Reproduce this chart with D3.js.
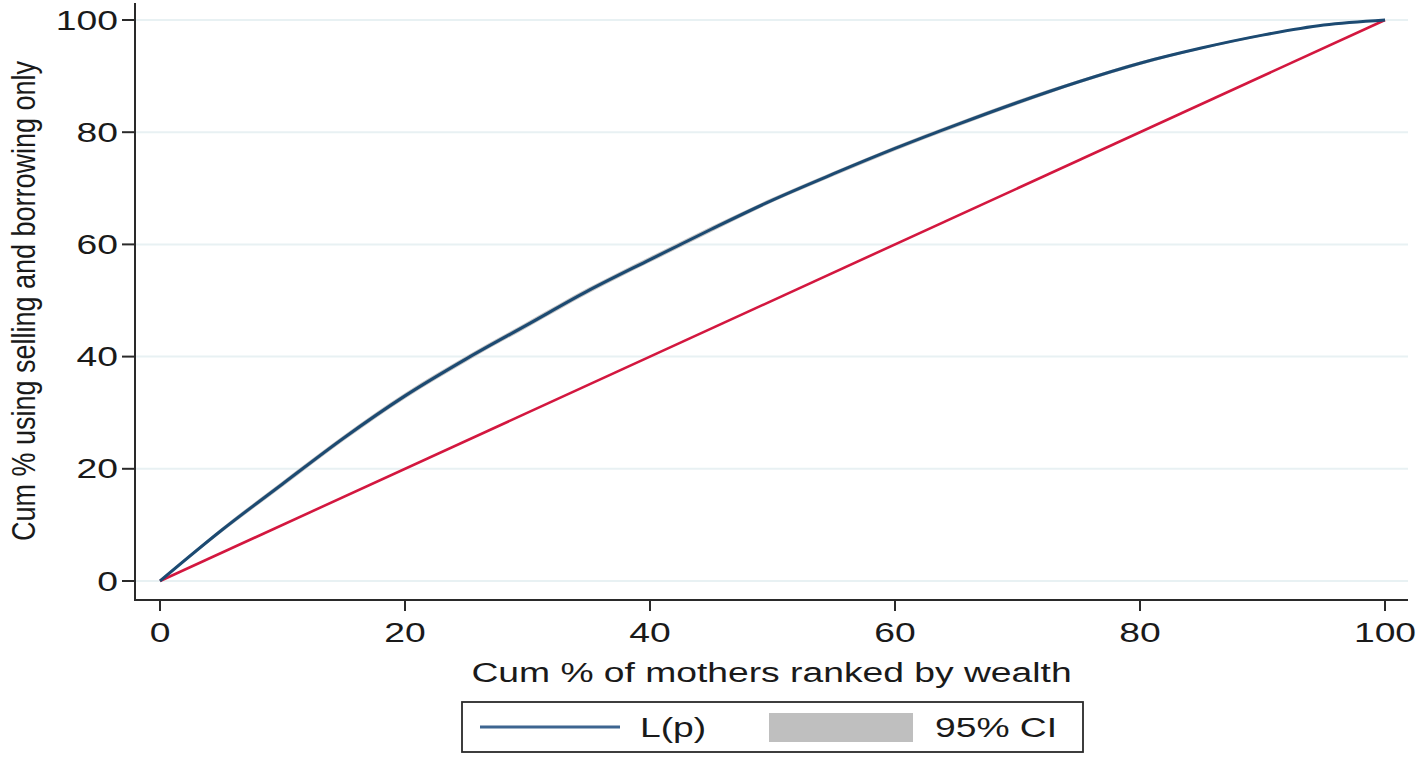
<!DOCTYPE html>
<html><head><meta charset="utf-8">
<script src="https://cdn.jsdelivr.net/npm/d3@7"></script>
<style>
html,body{margin:0;padding:0;background:#fff;}
svg{display:block;}
text{font-family:"Liberation Sans",Arial,sans-serif;fill:#1a1a1a;}
</style></head><body>
<svg id="chart" width="1418" height="757"></svg>
<script>
// ---- data ----
const p = [0,5,10,15,20,25,30,35,40,45,50,55,60,65,70,75,80,85,90,95,100];
const Lp = [0,9.0,17.3,25.5,33.0,39.6,45.7,51.8,57.3,62.7,67.9,72.6,77.1,81.3,85.3,89.0,92.3,95.0,97.3,99.1,100];
const ciLow = [0,8.6,16.8,25.0,32.5,39.1,45.2,51.3,56.8,62.2,67.5,72.2,76.7,80.9,84.9,88.7,92.0,94.8,97.1,99.0,100];
const ciHigh = [0,9.4,17.8,26.0,33.5,40.1,46.2,52.3,57.8,63.2,68.3,73.0,77.5,81.7,85.7,89.3,92.6,95.2,97.5,99.2,100];
const equality = [0,100];
const xTicks = [0,20,40,60,80,100];
const yTicks = [0,20,40,60,80,100];
const xTitle = "Cum % of mothers ranked by wealth";
const yTitle = "Cum % using selling and borrowing only";
const legendLabels = ["L(p)", "95% CI"];

// ---- layout ----
const svg = d3.select("#chart");
const SX = 1.38, FS = 27;
const x = d3.scaleLinear().domain([0,100]).range([160,1385]);
const y = d3.scaleLinear().domain([0,100]).range([581,20]);
const plotL = 135, plotR = 1408, plotT = 3, plotB = 600;

// gridlines
svg.append("g").selectAll("line").data(yTicks).join("line")
  .attr("x1", plotL).attr("x2", plotR)
  .attr("y1", d => y(d)).attr("y2", d => y(d))
  .attr("stroke", "#e8f1f3").attr("stroke-width", 2);

// CI band
const pts = p.map((v,i)=>({p:v, l:Lp[i], lo:ciLow[i], hi:ciHigh[i]}));
svg.append("path").datum(pts)
  .attr("d", d3.area().curve(d3.curveMonotoneX).x(d=>x(d.p)).y0(d=>y(d.lo)).y1(d=>y(d.hi)))
  .attr("fill", "#c4c4c4");

// equality line
svg.append("path").datum(equality)
  .attr("d", d3.line().x(d=>x(d)).y(d=>y(d)))
  .attr("stroke", "#d3173f").attr("stroke-width", 2.6).attr("fill","none");

// L(p)
svg.append("path").datum(pts)
  .attr("d", d3.line().curve(d3.curveMonotoneX).x(d=>x(d.p)).y(d=>y(d.l)))
  .attr("stroke", "#1c4a72").attr("stroke-width", 3).attr("fill","none")
  .attr("stroke-linejoin","round");

// axes lines
svg.append("line").attr("x1",plotL).attr("x2",plotL).attr("y1",plotT).attr("y2",plotB+1)
  .attr("stroke","#2a2a2a").attr("stroke-width",2);
svg.append("line").attr("x1",plotL-1).attr("x2",plotR).attr("y1",plotB).attr("y2",plotB)
  .attr("stroke","#2a2a2a").attr("stroke-width",2);

// y ticks & labels
const yg = svg.append("g");
yg.selectAll("line").data(yTicks).join("line")
  .attr("x1", 122).attr("x2", plotL).attr("y1", d=>y(d)).attr("y2", d=>y(d))
  .attr("stroke","#2a2a2a").attr("stroke-width",2);
yg.selectAll("text").data(yTicks).join("text")
  .attr("transform", d=>`translate(118,${y(d)+9.5}) scale(${SX},1)`)
  .attr("text-anchor","end").attr("font-size",FS).text(d=>d);

// x ticks & labels
const xg = svg.append("g");
xg.selectAll("line").data(xTicks).join("line")
  .attr("x1", d=>x(d)).attr("x2", d=>x(d)).attr("y1", plotB).attr("y2", plotB+11)
  .attr("stroke","#2a2a2a").attr("stroke-width",2);
xg.selectAll("text").data(xTicks).join("text")
  .attr("transform", d=>`translate(${x(d)},642) scale(${SX},1)`)
  .attr("text-anchor","middle").attr("font-size",FS).text(d=>d);

// axis titles
svg.append("text").attr("transform", `translate(771.5,682) scale(${SX},1)`)
  .attr("text-anchor","middle").attr("font-size",FS).text(xTitle);
svg.append("text").attr("transform", `translate(35,301) scale(1.25,1) rotate(-90)`)
  .attr("text-anchor","middle").attr("font-size",FS).text(yTitle);

// legend
const lg = svg.append("g");
lg.append("rect").attr("x",462).attr("y",702).attr("width",621).attr("height",50)
  .attr("fill","#fff").attr("stroke","#2a2a2a").attr("stroke-width",1.8);
lg.append("line").attr("x1",480).attr("x2",620).attr("y1",727).attr("y2",727)
  .attr("stroke","#3d6590").attr("stroke-width",3);
lg.append("text").attr("transform",`translate(640,737) scale(${SX},1)`)
  .attr("font-size",FS).text(legendLabels[0]);
lg.append("rect").attr("x",769).attr("y",713).attr("width",144).attr("height",29)
  .attr("fill","#bfbfbf");
lg.append("text").attr("transform",`translate(935,737) scale(${SX},1)`)
  .attr("font-size",FS).text(legendLabels[1]);
</script>
</body></html>
